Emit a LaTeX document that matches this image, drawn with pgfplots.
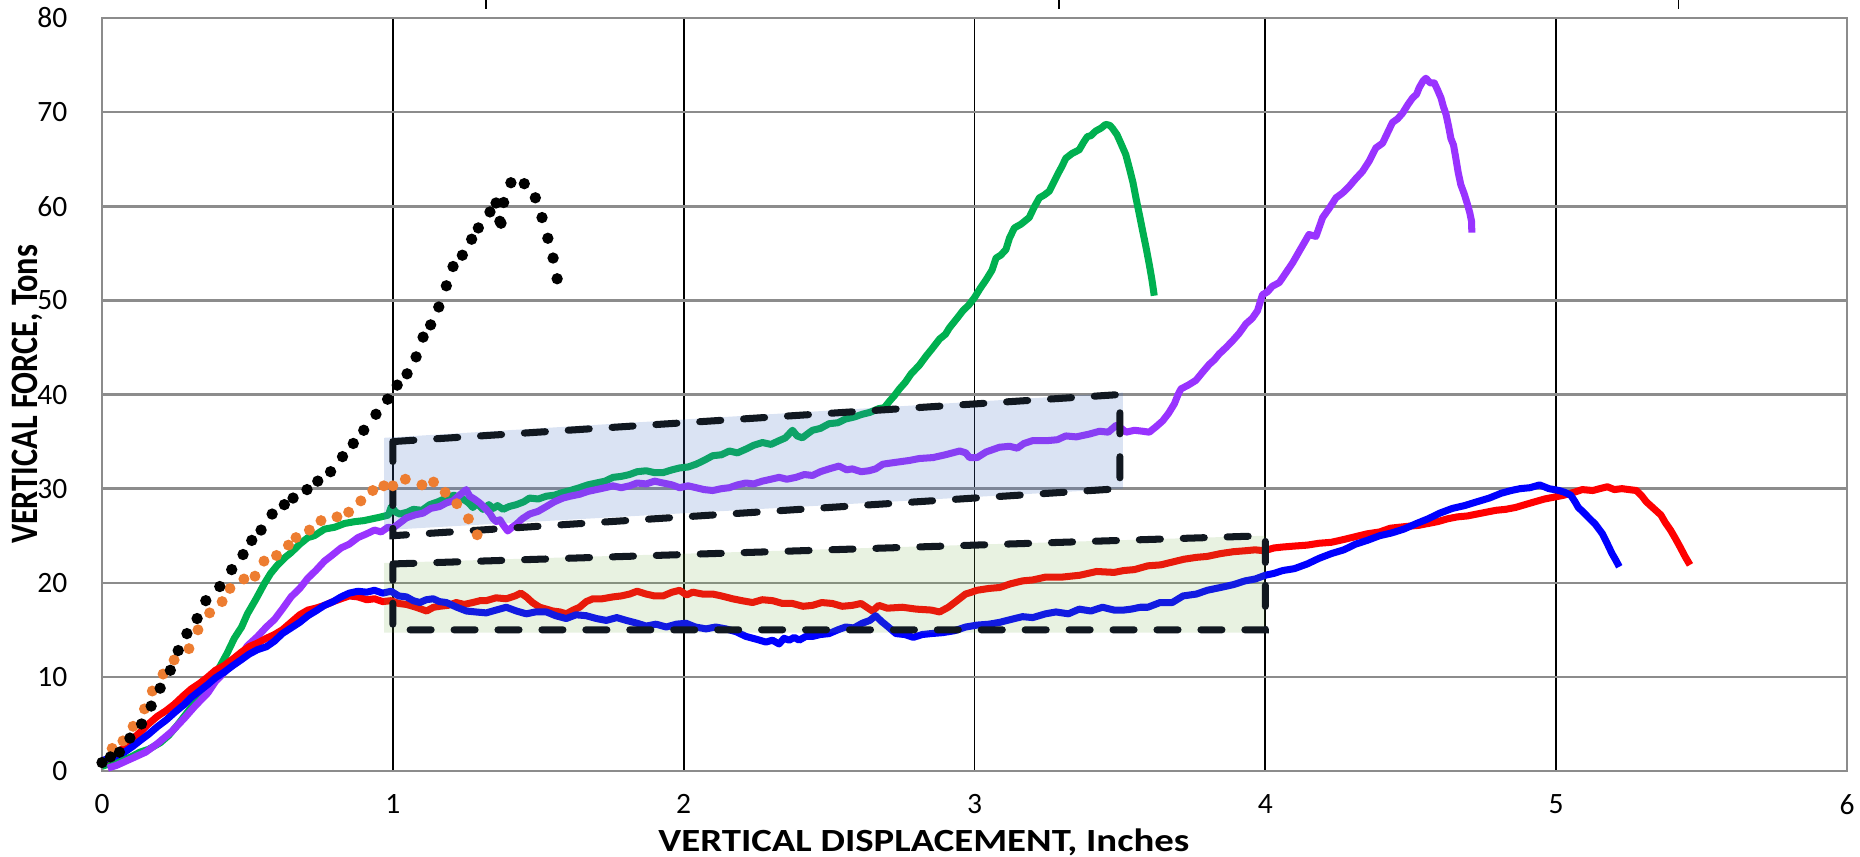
\documentclass[border=0pt]{standalone}
\usepackage{fontspec}
\setmainfont{Carlito}
\usepackage{pgfplots}
\pgfplotsset{compat=1.18}
\definecolor{cgreen}{HTML}{00B050}
\definecolor{cpurple}{HTML}{9933FF}
\definecolor{cblue}{HTML}{0000FF}
\definecolor{cred}{HTML}{FF0000}
\definecolor{corange}{HTML}{ED7D31}
\definecolor{boxblue}{HTML}{4472C4}
\definecolor{boxgreen}{HTML}{70AD47}
\definecolor{dashc}{HTML}{111820}
\definecolor{gridgray}{HTML}{8C8C8C}
\begin{document}
\begin{tikzpicture}
\path[use as bounding box] (-10.2mm,-8.5mm) rectangle (175.8mm,77.1mm);
\begin{axis}[
  scale only axis, width=174.5mm, height=75.3mm,
  xmin=0, xmax=6, ymin=0, ymax=80,
  xtick={0,1,...,6}, ytick={0,10,...,80},
  major tick length=0pt,
  axis line style={gridgray, line width=0.7pt},
  ymajorgrids, xmajorgrids,
  y grid style={gridgray, line width=0.7pt},
  x grid style={black, line width=0.5pt},
  /pgf/number format/assume math mode=true,
  tick label style={font=\fontsize{8.4}{10}\selectfont},
  yticklabel style={anchor=east, inner sep=0pt, xshift=-3.4mm},
  xticklabel style={anchor=north, inner sep=0pt, yshift=-2.3mm},
  xlabel={\scalebox{1.2}[1]{VERTICAL DISPLACEMENT, Inches}},
  ylabel={\scalebox{1}[1.2]{VERTICAL FORCE, Tons}},
  xlabel style={font=\bfseries\fontsize{9.2}{11}\selectfont, at={(axis description cs:0.471,0)}, anchor=north, inner sep=0pt, yshift=-5.7mm},
  ylabel style={font=\bfseries\fontsize{9.2}{11}\selectfont, at={([xshift=-7.5mm]axis description cs:0,0.5)}, anchor=center, inner sep=0pt},
  clip=false,
]
% green
\addplot[cgreen, line width=2pt, line join=round] coordinates {
(0,0.5) (0.03,0.8) (0.06,1.0) (0.1,1.5) (0.13,2.0) (0.16,2.3) (0.2,3.0) (0.23,3.8) (0.26,4.9) (0.3,6.5) (0.33,7.7) (0.36,9.0) (0.4,10.8) (0.43,12.5) (0.455,14.1) (0.48,15.3) (0.5,16.7) (0.53,18.3) (0.558,19.9) (0.58,21.0) (0.604,21.9) (0.63,22.7) (0.65,23.2) (0.68,24.1) (0.708,24.8) (0.73,25.0) (0.765,25.7) (0.8,25.9) (0.834,26.3) (0.87,26.5) (0.9,26.6) (0.93,26.8) (0.96,27.0) (0.985,27.2) (0.995,28.1) (1.01,27.5) (1.024,27.3) (1.05,27.5) (1.07,27.8) (1.1,27.7) (1.127,28.3) (1.155,28.6) (1.184,29.0) (1.21,29.3) (1.241,28.9) (1.26,28.5) (1.275,28.0) (1.29,28.4) (1.31,27.8) (1.33,28.3) (1.345,27.9) (1.36,28.2) (1.379,27.8) (1.40,28.1) (1.425,28.3) (1.45,28.6) (1.47,29.0) (1.5,28.9) (1.528,29.2) (1.555,29.3) (1.585,29.6) (1.61,29.8) (1.642,30.1) (1.67,30.4) (1.70,30.6) (1.73,30.8) (1.757,31.2) (1.785,31.3) (1.814,31.5) (1.84,31.8) (1.871,31.9) (1.90,31.7) (1.929,31.7) (1.96,32.0) (1.986,32.2) (2.015,32.3) (2.043,32.6) (2.07,33.0) (2.1,33.5) (2.13,33.6) (2.157,34.0) (2.185,33.8) (2.214,34.2) (2.24,34.6) (2.271,34.9) (2.30,34.7) (2.328,35.1) (2.35,35.4) (2.374,36.2) (2.39,35.6) (2.408,35.4) (2.425,35.8) (2.443,36.2) (2.47,36.4) (2.5,36.9) (2.53,37.0) (2.557,37.4) (2.585,37.6) (2.614,37.9) (2.64,38.1) (2.671,38.5) (2.69,38.6) (2.708,39.3) (2.725,39.9) (2.742,40.6) (2.762,41.3) (2.782,42.2) (2.81,43.1) (2.834,44.1) (2.855,44.9) (2.88,45.9) (2.9,46.4) (2.914,47.1) (2.94,48.1) (2.96,48.9) (2.98,49.5) (3.0,50.3) (3.02,51.3) (3.04,52.2) (3.06,53.2) (3.074,54.5) (3.09,54.8) (3.108,55.4) (3.12,56.6) (3.137,57.7) (3.16,58.1) (3.188,58.8) (3.205,59.9) (3.223,60.9) (3.24,61.2) (3.257,61.6) (3.27,62.4) (3.286,63.4) (3.3,64.2) (3.314,65.1) (3.335,65.6) (3.36,66.0) (3.375,66.8) (3.388,67.4) (3.4,67.5) (3.417,68.0) (3.435,68.3) (3.451,68.7) (3.465,68.6) (3.474,68.3) (3.49,67.6) (3.503,66.7) (3.52,65.5) (3.532,64.1) (3.545,62.5) (3.555,60.9) (3.567,59.1) (3.578,57.4) (3.59,55.6) (3.601,53.8) (3.61,52.2) (3.618,50.5)
};
% purple
\addplot[cpurple, line width=2pt, line join=round] coordinates {
(0.02,0.3) (0.05,0.6) (0.1,1.3) (0.15,2.0) (0.19,2.9) (0.24,4.2) (0.283,5.6) (0.32,6.9) (0.364,8.3) (0.39,9.5) (0.421,10.5) (0.45,11.5) (0.478,12.3) (0.5,13.3) (0.535,14.3) (0.565,15.3) (0.593,16.1) (0.62,17.2) (0.65,18.5) (0.68,19.4) (0.708,20.5) (0.735,21.3) (0.765,22.3) (0.79,22.9) (0.822,23.7) (0.85,24.1) (0.88,24.8) (0.91,25.2) (0.937,25.6) (0.96,25.4) (0.983,25.9) (1.0,25.8) (1.03,26.5) (1.047,26.9) (1.075,27.2) (1.104,27.4) (1.13,27.9) (1.161,28.1) (1.185,28.5) (1.207,28.7) (1.225,29.2) (1.241,29.6) (1.252,29.9) (1.264,29.2) (1.28,28.9) (1.298,28.5) (1.315,28.0) (1.333,27.4) (1.345,26.8) (1.356,26.5) (1.368,26.7) (1.378,26.2) (1.395,25.5) (1.41,25.9) (1.424,26.2) (1.445,26.8) (1.47,27.3) (1.5,27.6) (1.528,28.1) (1.555,28.6) (1.585,29.0) (1.61,29.2) (1.642,29.4) (1.67,29.7) (1.70,29.9) (1.73,30.1) (1.757,30.3) (1.785,30.1) (1.814,30.3) (1.84,30.6) (1.871,30.5) (1.90,30.8) (1.929,30.6) (1.96,30.4) (1.986,30.1) (2.015,30.3) (2.043,30.1) (2.07,29.9) (2.1,29.8) (2.13,30.0) (2.157,30.1) (2.185,30.4) (2.214,30.6) (2.24,30.5) (2.271,30.8) (2.30,31.0) (2.328,31.2) (2.355,31.0) (2.386,31.2) (2.415,31.5) (2.443,31.4) (2.47,31.8) (2.5,32.1) (2.534,32.4) (2.56,32.0) (2.58,32.1) (2.61,31.8) (2.637,31.9) (2.66,32.1) (2.685,32.6) (2.73,32.8) (2.777,33.0) (2.81,33.2) (2.857,33.3) (2.9,33.6) (2.949,34.0) (2.97,33.8) (2.983,33.3) (3.009,33.3) (3.04,33.9) (3.086,34.4) (3.12,34.5) (3.147,34.3) (3.17,34.8) (3.2,35.1) (3.25,35.1) (3.285,35.2) (3.314,35.6) (3.35,35.5) (3.395,35.8) (3.43,36.1) (3.46,36.0) (3.486,36.7) (3.505,36.4) (3.521,36.0) (3.55,36.2) (3.578,36.1) (3.601,36.0) (3.625,36.6) (3.647,37.2) (3.667,38.0) (3.687,39.0) (3.7,40.0) (3.71,40.6) (3.735,41.0) (3.761,41.5) (3.785,42.4) (3.807,43.2) (3.825,43.7) (3.841,44.3) (3.865,45.0) (3.887,45.7) (3.91,46.5) (3.933,47.5) (3.955,48.1) (3.973,48.9) (3.99,50.6) (4.007,50.9) (4.024,51.5) (4.048,51.9) (4.07,52.9) (4.094,54.0) (4.12,55.4) (4.15,57.0) (4.174,56.8) (4.197,58.8) (4.22,59.8) (4.243,60.9) (4.265,61.4) (4.288,62.1) (4.31,62.9) (4.334,63.7) (4.357,64.8) (4.38,66.2) (4.403,66.7) (4.42,67.8) (4.437,68.9) (4.455,69.3) (4.472,69.9) (4.49,70.8) (4.506,71.5) (4.52,71.9) (4.529,72.6) (4.542,73.3) (4.552,73.6) (4.567,73.1) (4.581,73.1) (4.593,72.3) (4.604,71.5) (4.612,70.6) (4.621,69.8) (4.63,68.5) (4.638,67.2) (4.647,66.5) (4.655,65.1) (4.663,63.6) (4.672,62.3) (4.684,61.3) (4.695,60.2) (4.703,59.3) (4.709,58.4) (4.71,57.2)
};
% red
\addplot[cred, line width=2pt, line join=round] coordinates {
(0,0.9) (0.04,1.7) (0.077,2.5) (0.105,3.4) (0.134,4.2) (0.16,5.0) (0.19,5.8) (0.22,6.4) (0.249,7.1) (0.28,8.0) (0.306,8.7) (0.335,9.3) (0.364,10.0) (0.39,10.7) (0.42,11.2) (0.45,11.9) (0.478,12.6) (0.505,13.2) (0.535,13.6) (0.565,14.1) (0.593,14.5) (0.62,15.0) (0.65,15.8) (0.68,16.6) (0.708,17.1) (0.735,17.3) (0.765,17.6) (0.795,18.0) (0.822,18.3) (0.85,18.6) (0.88,18.5) (0.91,18.2) (0.937,18.3) (0.965,18.0) (0.994,18.1) (1.02,17.8) (1.047,17.7) (1.08,17.4) (1.116,17.0) (1.14,17.4) (1.161,17.5) (1.19,17.6) (1.218,17.9) (1.245,17.7) (1.275,17.9) (1.3,18.1) (1.321,18.1) (1.355,18.4) (1.39,18.3) (1.42,18.6) (1.44,18.9) (1.459,18.5) (1.48,17.9) (1.505,17.4) (1.528,17.2) (1.55,17.0) (1.575,16.9) (1.596,16.7) (1.62,17.1) (1.642,17.4) (1.665,18.0) (1.688,18.3) (1.72,18.3) (1.757,18.5) (1.785,18.6) (1.814,18.8) (1.84,19.1) (1.871,18.8) (1.9,18.6) (1.929,18.6) (1.96,19.0) (1.986,19.2) (2.01,18.7) (2.031,19.0) (2.065,18.8) (2.1,18.8) (2.13,18.6) (2.168,18.3) (2.2,18.1) (2.237,17.9) (2.27,18.2) (2.306,18.1) (2.34,17.8) (2.374,17.8) (2.41,17.5) (2.443,17.6) (2.475,17.9) (2.511,17.8) (2.545,17.5) (2.58,17.6) (2.61,17.8) (2.649,17.0) (2.671,17.6) (2.7,17.3) (2.752,17.4) (2.8,17.2) (2.851,17.1) (2.88,16.9) (2.91,17.4) (2.94,18.1) (2.969,18.8) (2.99,19.0) (3.008,19.2) (3.05,19.4) (3.087,19.5) (3.125,19.9) (3.165,20.2) (3.2,20.3) (3.244,20.6) (3.3,20.6) (3.362,20.8) (3.42,21.2) (3.48,21.1) (3.513,21.3) (3.55,21.4) (3.596,21.8) (3.64,21.9) (3.68,22.2) (3.72,22.5) (3.763,22.7) (3.8,22.8) (3.846,23.1) (3.89,23.3) (3.93,23.4) (3.965,23.5) (3.996,23.4) (4.03,23.7) (4.06,23.8) (4.1,23.9) (4.144,24.0) (4.185,24.2) (4.227,24.3) (4.27,24.6) (4.31,24.9) (4.35,25.2) (4.393,25.4) (4.43,25.8) (4.46,25.9) (4.49,26.0) (4.527,26.1) (4.56,26.3) (4.593,26.5) (4.627,26.8) (4.66,27.0) (4.695,27.1) (4.727,27.3) (4.76,27.5) (4.793,27.7) (4.826,27.8) (4.86,28.0) (4.893,28.3) (4.926,28.6) (4.96,28.9) (4.993,29.1) (5.026,29.3) (5.06,29.6) (5.09,29.9) (5.126,29.8) (5.15,30.0) (5.176,30.2) (5.2,29.9) (5.226,30.0) (5.25,29.9) (5.276,29.8) (5.295,29.2) (5.31,28.6) (5.335,27.9) (5.36,27.2) (5.375,26.4) (5.393,25.6) (5.41,24.7) (5.426,23.8) (5.443,22.8) (5.46,21.9)
};
% blue
\addplot[cblue, line width=2pt, line join=round] coordinates {
(0,1.1) (0.04,1.5) (0.077,2.0) (0.105,2.6) (0.134,3.3) (0.16,3.9) (0.19,4.7) (0.22,5.4) (0.249,6.2) (0.28,7.0) (0.306,7.8) (0.335,8.5) (0.364,9.2) (0.39,9.9) (0.42,10.5) (0.45,11.2) (0.478,11.8) (0.505,12.4) (0.535,12.9) (0.565,13.2) (0.593,13.8) (0.62,14.6) (0.65,15.2) (0.68,15.8) (0.708,16.5) (0.735,17.0) (0.765,17.6) (0.795,18.0) (0.822,18.5) (0.85,18.9) (0.88,19.1) (0.91,19.0) (0.937,19.2) (0.965,18.9) (0.994,19.1) (1.02,18.6) (1.047,18.5) (1.07,18.1) (1.093,17.9) (1.115,18.2) (1.139,18.3) (1.16,18.0) (1.184,17.9) (1.22,17.4) (1.253,17.0) (1.285,16.9) (1.321,16.8) (1.355,17.1) (1.39,17.4) (1.425,17.0) (1.459,16.7) (1.49,16.9) (1.528,16.9) (1.56,16.5) (1.596,16.2) (1.63,16.6) (1.665,16.5) (1.7,16.2) (1.734,16.0) (1.77,16.3) (1.803,16.0) (1.84,15.7) (1.871,15.4) (1.905,15.6) (1.94,15.3) (1.975,15.6) (2.008,15.7) (2.04,15.3) (2.077,15.1) (2.11,15.3) (2.145,15.1) (2.18,14.8) (2.214,14.3) (2.25,14.0) (2.283,13.7) (2.305,13.9) (2.328,13.5) (2.345,14.1) (2.363,13.9) (2.38,14.2) (2.397,13.9) (2.42,14.3) (2.443,14.3) (2.47,14.5) (2.5,14.6) (2.53,15.0) (2.557,15.3) (2.585,15.2) (2.614,15.7) (2.64,16.0) (2.66,16.5) (2.68,15.9) (2.70,15.4) (2.73,14.6) (2.76,14.5) (2.79,14.2) (2.82,14.5) (2.85,14.6) (2.89,14.7) (2.93,14.9) (2.97,15.3) (3.008,15.5) (3.05,15.6) (3.087,15.8) (3.125,16.1) (3.165,16.4) (3.2,16.3) (3.244,16.7) (3.28,16.9) (3.323,16.7) (3.36,17.2) (3.4,17.0) (3.44,17.4) (3.48,17.1) (3.513,17.1) (3.539,17.2) (3.57,17.4) (3.596,17.4) (3.638,17.9) (3.68,17.9) (3.717,18.6) (3.763,18.8) (3.8,19.2) (3.846,19.5) (3.89,19.8) (3.93,20.2) (3.965,20.4) (4.0,20.8) (4.03,21.0) (4.06,21.3) (4.1,21.5) (4.144,22.0) (4.185,22.6) (4.227,23.1) (4.27,23.5) (4.31,24.1) (4.35,24.5) (4.393,25.0) (4.435,25.3) (4.476,25.7) (4.52,26.3) (4.56,26.8) (4.6,27.4) (4.643,27.9) (4.685,28.2) (4.727,28.6) (4.77,29.0) (4.81,29.5) (4.845,29.8) (4.876,30.0) (4.91,30.1) (4.943,30.4) (4.975,30.0) (5.01,29.8) (5.03,29.6) (5.05,29.3) (5.065,28.6) (5.076,28.0) (5.09,27.6) (5.109,27.0) (5.135,26.2) (5.159,25.2) (5.175,24.2) (5.192,23.1) (5.205,22.4) (5.217,21.7)
};
% orange dots
\addplot[only marks, mark=*, mark size=1.35pt, corange, mark options={draw=none, fill=corange}] coordinates {
(0.035,2.4) (0.072,3.2) (0.107,4.75) (0.146,6.6) (0.173,8.5) (0.21,10.3) (0.248,11.8) (0.299,13.0) (0.33,15.0) (0.37,16.8) (0.413,18.0) (0.44,19.4) (0.488,20.4) (0.526,20.7) (0.557,22.3) (0.6,22.9) (0.641,24.0) (0.667,24.8) (0.713,25.6) (0.753,26.6) (0.808,27.0) (0.848,27.5) (0.89,28.7) (0.931,29.8) (0.969,30.3) (1.0,30.3) (1.043,31.0) (1.1,30.4) (1.14,30.7) (1.18,29.6) (1.22,28.4) (1.26,26.8) (1.29,25.1)
};
% black dots
\addplot[only marks, mark=*, mark size=1.4pt, black, mark options={draw=none, fill=black}] coordinates {
(0,0.9) (0.029,1.5) (0.06,2.0) (0.096,3.5) (0.136,5.0) (0.169,6.9) (0.2,8.8) (0.235,10.7) (0.262,12.8) (0.292,14.6) (0.327,16.2) (0.357,18.1) (0.405,19.6) (0.446,21.4) (0.485,23.0) (0.515,24.5) (0.547,25.6) (0.585,27.3) (0.627,28.3) (0.657,29.0) (0.705,29.9) (0.742,30.8) (0.786,31.8) (0.827,33.4) (0.864,34.8) (0.9,36.2) (0.942,37.9) (0.982,39.5) (1.015,41.0) (1.049,42.2) (1.08,44.0) (1.104,46.1) (1.13,47.4) (1.158,49.3) (1.184,51.55) (1.207,53.6) (1.239,54.8) (1.271,56.5) (1.294,57.7) (1.334,59.4) (1.355,60.35) (1.381,60.4) (1.368,58.4) (1.372,58.2) (1.406,62.5) (1.452,62.4) (1.49,60.9) (1.513,58.8) (1.533,56.6) (1.551,54.5) (1.565,52.3)
};
% shaded boxes (on top, semi-transparent)
\addplot[draw=none, fill=boxblue, fill opacity=0.2] coordinates {(0.97,25.6) (0.97,35.4) (3.51,40.2) (3.51,30.0)} -- cycle;
\addplot[draw=none, fill=boxgreen, fill opacity=0.16] coordinates {(0.97,14.7) (0.97,22.1) (4.0,25.0) (4.0,14.7)} -- cycle;
\addplot[dashc, line width=2pt, line cap=round, dash pattern=on 6pt off 6.5pt] coordinates {(1,35) (3.5,40) (3.5,30) (1,25) (1,35)};
\addplot[dashc, line width=2pt, line cap=round, dash pattern=on 6pt off 6.5pt] coordinates {(1,22) (4,25) (4,15) (1,15) (1,22)};
% small marks above the plot
\addplot[black, line width=0.4pt] coordinates {(1.32,81.0) (1.32,81.9)};
\addplot[black, line width=0.4pt] coordinates {(3.29,81.0) (3.29,81.9)};
\addplot[black, line width=0.4pt] coordinates {(5.42,81.0) (5.42,81.9)};
\end{axis}
\end{tikzpicture}
\end{document}
